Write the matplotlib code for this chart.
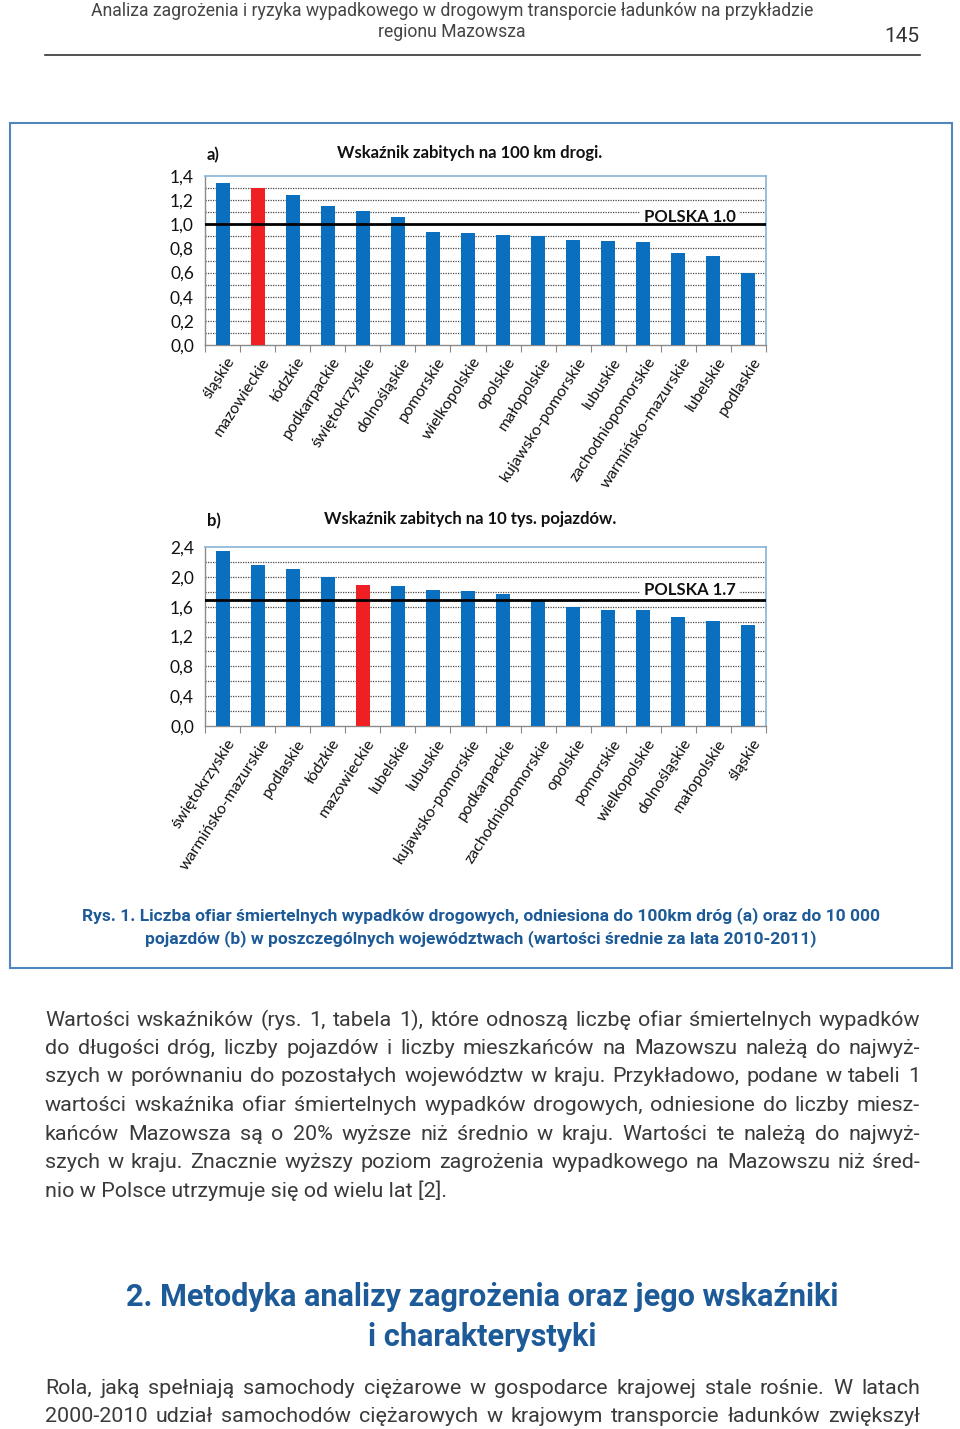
import matplotlib
matplotlib.use('Agg')
import matplotlib.pyplot as plt
from matplotlib.patches import Rectangle
from matplotlib.lines import Line2D

# ---------------- data ----------------
regions_a = ['śląskie', 'mazowieckie', 'łódzkie', 'podkarpackie', 'świętokrzyskie',
             'dolnośląskie', 'pomorskie', 'wielkopolskie', 'opolskie', 'małopolskie',
             'kujawsko-pomorskie', 'lubuskie', 'zachodniopomorskie',
             'warmińsko-mazurskie', 'lubelskie', 'podlaskie']
values_a = [1.34, 1.30, 1.24, 1.15, 1.11, 1.06, 0.94, 0.93, 0.91, 0.90,
            0.87, 0.86, 0.85, 0.76, 0.74, 0.60]
polska_a = 1.0
label_polska_a = 'POLSKA 1.0'
yticks_a = [0.0, 0.2, 0.4, 0.6, 0.8, 1.0, 1.2, 1.4]
ytick_labels_a = ['0,0', '0,2', '0,4', '0,6', '0,8', '1,0', '1,2', '1,4']

regions_b = ['świętokrzyskie', 'warmińsko-mazurskie', 'podlaskie', 'łódzkie',
             'mazowieckie', 'lubelskie', 'lubuskie', 'kujawsko-pomorskie',
             'podkarpackie', 'zachodniopomorskie', 'opolskie', 'pomorskie',
             'wielkopolskie', 'dolnośląskie', 'małopolskie', 'śląskie']
values_b = [2.35, 2.16, 2.10, 2.00, 1.89, 1.88, 1.83, 1.81, 1.77, 1.67,
            1.60, 1.55, 1.55, 1.46, 1.41, 1.35]
polska_b = 1.69
label_polska_b = 'POLSKA 1.7'
yticks_b = [0.0, 0.4, 0.8, 1.2, 1.6, 2.0, 2.4]
ytick_labels_b = ['0,0', '0,4', '0,8', '1,2', '1,6', '2,0', '2,4']

highlight = 'mazowieckie'

title_a = 'Wskaźnik zabitych na 100 km drogi.'
title_b = 'Wskaźnik zabitych na 10 tys. pojazdów.'

header_lines = ['Analiza zagrożenia i ryzyka wypadkowego w drogowym transporcie ładunków na przykładzie',
                'regionu Mazowsza']
page_number = '145'
caption_lines = ['Rys. 1. Liczba ofiar śmiertelnych wypadków drogowych, odniesiona do 100km dróg (a) oraz do 10 000',
                 'pojazdów (b) w poszczególnych województwach (wartości średnie za lata 2010-2011)']
body_lines = ['Wartości wskaźników (rys. 1, tabela 1), które odnoszą liczbę ofiar śmiertelnych wypadków',
              'do długości dróg, liczby pojazdów i liczby mieszkańców na Mazowszu należą do najwyż-',
              'szych w porównaniu do pozostałych województw w kraju. Przykładowo, podane w tabeli 1',
              'wartości wskaźnika ofiar śmiertelnych wypadków drogowych, odniesione do liczby miesz-',
              'kańców Mazowsza są o 20% wyższe niż średnio w kraju. Wartości te należą do najwyż-',
              'szych w kraju. Znacznie wyższy poziom zagrożenia wypadkowego na Mazowszu niż śred-',
              'nio w Polsce utrzymuje się od wielu lat [2].']
heading_lines = ['2. Metodyka analizy zagrożenia oraz jego wskaźniki', 'i charakterystyki']
body2_lines = ['Rola, jaką spełniają samochody ciężarowe w gospodarce krajowej stale rośnie. W latach',
               '2000-2010 udział samochodów ciężarowych w krajowym transporcie ładunków zwiększył']

# ---------------- style ----------------
W, H = 960, 1429
BLUE_BAR = '#0b6fbf'
RED_BAR = '#ee2024'
TEXT_BLUE = '#1d5a98'
BODY = '#3a3a3a'
CHART_FONT = 'Lato'
PAGE_FONT = 'Roboto'

fig = plt.figure(figsize=(W / 100, H / 100), dpi=100)
fig.patch.set_facecolor('white')
r = fig.canvas.get_renderer()


def fx(x):
    return x / W


def fy(y):
    return 1 - y / H


def width_of(t):
    return t.get_window_extent(renderer=r).width


def fit_size(text, target_w, base=14, **kw):
    t = fig.text(0, 0, text, fontsize=base, **kw)
    w = width_of(t)
    t.remove()
    return base * target_w / w


def justified(lines, x0, x1, y0, dy, size, justify_last=True, **kw):
    for i, line in enumerate(lines):
        y = y0 + i * dy
        last = (i == len(lines) - 1)
        if last and not justify_last:
            fig.text(fx(x0), fy(y), line, ha='left', va='center', fontsize=size, **kw)
            continue
        words = line.split(' ')
        ts = [fig.text(0, fy(y), w, ha='left', va='center', fontsize=size, **kw) for w in words]
        ws = [width_of(t) for t in ts]
        gap = (x1 - x0 - sum(ws)) / (len(words) - 1)
        x = x0
        for t, wd in zip(ts, ws):
            t.set_x(fx(x))
            x += wd + gap


# ---------------- header ----------------
hs = fit_size(header_lines[0], 725, family=PAGE_FONT)
fig.text(fx(452), fy(11), header_lines[0], ha='center', va='center', fontsize=hs,
         family=PAGE_FONT, color='#444444')
fig.text(fx(452), fy(32), header_lines[1], ha='center', va='center', fontsize=hs,
         family=PAGE_FONT, color='#444444')
fig.text(fx(902), fy(37), page_number, ha='center', va='center', fontsize=15,
         family=PAGE_FONT, color='#333333')
fig.add_artist(Line2D([fx(45), fx(920)], [fy(55), fy(55)], color='#333333', lw=1.2))

# ---------------- frame ----------------
fig.add_artist(Rectangle((fx(10), fy(968)), fx(952) - fx(10), fy(123) - fy(968),
                         fill=False, edgecolor='#4f87bd', lw=1.5))


# ---------------- charts ----------------
def bar_chart(top, bottom, cats, vals, ymax, yticks, yticklabels, grid_step,
              polska, polska_label, label_offset, title, letter, title_y):
    ax = fig.add_axes([fx(205), fy(bottom), fx(766) - fx(205), fy(top) - fy(bottom)])
    x = list(range(len(cats)))
    colors = [RED_BAR if c == highlight else BLUE_BAR for c in cats]
    ax.bar(x, vals, width=0.4, color=colors, zorder=3)
    ax.set_xlim(-0.5, len(cats) - 0.5)
    ax.set_ylim(0, ymax)
    n = int(round(ymax / grid_step))
    for k in range(1, n):
        ax.axhline(k * grid_step, color='#4a4a4a', lw=0.9, ls=(0, (1, 1)), zorder=1)
    ax.axhline(polska, color='black', lw=2.0, zorder=6)
    ax.annotate(polska_label, xy=(len(cats) - 2.67, polska), xytext=(0, label_offset),
                textcoords='offset pixels', ha='center', va='center',
                fontsize=12, fontweight='bold', family=CHART_FONT, color='#111111', zorder=5,
                bbox=dict(facecolor='white', edgecolor='none', pad=2.5))
    ax.set_yticks(yticks)
    ax.set_yticklabels(yticklabels, family=CHART_FONT, fontsize=12.5, color='#111111')
    ax.tick_params(axis='y', length=0, pad=8)
    ax.set_xticks([i - 0.5 for i in range(len(cats) + 1)])
    ax.set_xticklabels([])
    ax.tick_params(axis='x', length=5, color='#888888', direction='out')
    for i, c in enumerate(cats):
        ax.text(i + 0.1, -ymax * 0.06, c, rotation=57, rotation_mode='anchor',
                ha='right', va='top', fontsize=11.5, family=CHART_FONT, color='#111111')
    for s in ['left', 'bottom']:
        ax.spines[s].set_color('#8a8a8a')
        ax.spines[s].set_linewidth(1.0)
    for s in ['top', 'right']:
        ax.spines[s].set_color('#86b4d8')
        ax.spines[s].set_linewidth(1.2)
    fig.text(fx(207), fy(title_y), letter, ha='left', va='center', fontsize=12,
             fontweight='bold', family=CHART_FONT, color='#111111')
    fig.text(fx(470), fy(title_y - 2), title, ha='center', va='center', fontsize=12,
             fontweight='bold', family=CHART_FONT, color='#111111')
    return ax


bar_chart(176, 345, regions_a, values_a, 1.4, yticks_a, ytick_labels_a, 0.1,
          polska_a, label_polska_a, 7, title_a, 'a)', 155)
bar_chart(547, 726, regions_b, values_b, 2.4, yticks_b, ytick_labels_b, 0.2,
          polska_b, label_polska_b, 10, title_b, 'b)', 521)

# ---------------- caption ----------------
cs = fit_size(caption_lines[0], 796, family=PAGE_FONT, fontweight='bold')
fig.text(fx(481), fy(916), caption_lines[0], ha='center', va='center', fontsize=cs,
         family=PAGE_FONT, fontweight='bold', color=TEXT_BLUE)
fig.text(fx(481), fy(939), caption_lines[1], ha='center', va='center', fontsize=cs,
         family=PAGE_FONT, fontweight='bold', color=TEXT_BLUE)

# ---------------- body ----------------
bs = fit_size(body_lines[0], 860, family=PAGE_FONT)
justified(body_lines, 45, 920, 1020, 28.5, bs, justify_last=False,
          family=PAGE_FONT, color=BODY)

gs = fit_size(heading_lines[0], 716, family=PAGE_FONT, fontweight='bold')
fig.text(fx(482), fy(1297), heading_lines[0], ha='center', va='center', fontsize=gs,
         family=PAGE_FONT, fontweight='bold', color=TEXT_BLUE)
fig.text(fx(482), fy(1337), heading_lines[1], ha='center', va='center', fontsize=gs,
         family=PAGE_FONT, fontweight='bold', color=TEXT_BLUE)

justified(body2_lines, 45, 920, 1388, 29, bs, justify_last=True,
          family=PAGE_FONT, color=BODY)

fig.savefig('out.png', dpi=100, facecolor='white')
